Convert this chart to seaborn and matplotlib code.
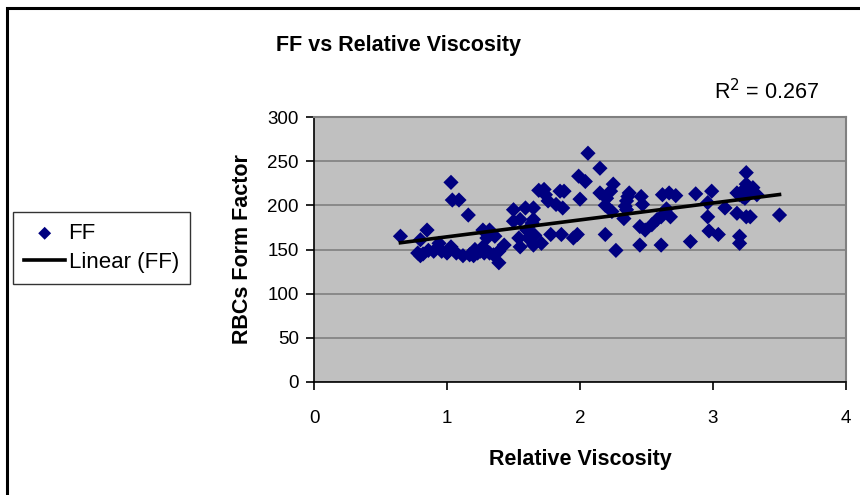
import matplotlib
matplotlib.use("Agg")
import matplotlib.pyplot as plt
import seaborn as sns
import pandas as pd
from matplotlib.patches import Rectangle

# values
rel_viscosity = [
    0.65, 1.03, 1.04, 1.09, 1.16, 0.85, 0.80, 0.78, 0.80, 0.86,
    0.94, 0.96, 1.03, 1.07, 1.01, 1.17, 1.21, 1.25, 1.27, 1.32,
    1.30, 1.36, 1.27, 1.32, 1.39, 1.39, 1.43, 1.50, 1.50, 1.59,
    1.65, 1.55, 1.60, 1.54, 1.61, 1.55, 1.65, 1.65, 1.69, 2.06,
    2.15, 1.99, 2.04, 1.73, 1.74, 1.85, 1.88, 1.76, 1.82, 1.87,
    2.00, 2.15, 2.25, 2.23, 2.20, 2.19, 2.24, 2.37, 2.35, 2.34,
    2.33, 2.46, 2.47, 2.45, 2.49, 2.54, 2.58, 2.61, 2.65, 2.68,
    2.62, 2.67, 2.72, 1.64, 1.66, 1.71, 1.78, 1.86, 1.95, 1.98,
    2.19, 2.27, 2.45, 2.61, 2.83, 3.25, 3.25, 3.18, 3.22, 3.27,
    3.33, 2.87, 2.99, 2.96, 3.09, 2.96, 3.18, 3.25, 3.28, 3.50,
    2.97, 3.04, 3.20, 3.20, 0.82, 0.90, 1.00, 1.12, 1.20, 1.23,
    1.35, 1.28, 3.22, 3.26, 3.30, 3.24, 3.20, 2.35, 2.36,
]
form_factor = [
    165, 226, 206, 206, 189, 172, 161, 146, 143, 149,
    157, 148, 153, 146, 148, 144, 150, 148, 172, 172,
    163, 165, 153, 146, 135, 148, 155, 195, 182, 197,
    197, 184, 172, 163, 163, 153, 155, 184, 217, 259,
    242, 233, 227, 218, 212, 216, 216, 205, 201, 197,
    207, 214, 224, 216, 208, 200, 193, 214, 205, 199,
    185, 210, 201, 176, 172, 178, 184, 187, 196, 187,
    212, 214, 211, 180, 166, 157, 167, 167, 163, 167,
    167, 149, 155, 155, 159, 237, 224, 214, 216, 216,
    212, 213, 216, 203, 197, 187, 191, 187, 187, 189,
    171, 167, 165, 157, 145, 148, 146, 143, 143, 146,
    144, 146, 210, 212, 220, 208, 212, 195, 210,
]
r2_text = "R$^2$ = 0.267"

df = pd.DataFrame({"Relative Viscosity": rel_viscosity, "FF": form_factor})

W, H = 860, 495
fig = plt.figure(figsize=(W / 100, H / 100), dpi=100)
plt.rcParams["font.family"] = ["Liberation Sans", "DejaVu Sans"]

# outer chart border (runs off the right/bottom edge like the screenshot)
fig.patches.append(Rectangle((7 / W, -0.1), 1.2, 1 - 8 / H + 0.1, transform=fig.transFigure,
                             fill=False, edgecolor="black", linewidth=2.2))

ax = fig.add_axes([314 / W, 1 - 382 / H, (846 - 314) / W, (382 - 117) / H])
ax.set_facecolor("#C0C0C0")

sns.scatterplot(data=df, x="Relative Viscosity", y="FF", marker="D", color="#000080",
                s=60, edgecolor="none", label="FF", ax=ax, zorder=3)
sns.regplot(data=df, x="Relative Viscosity", y="FF", scatter=False, ci=None,
            color="black", label="Linear (FF)", line_kws={"linewidth": 2.6, "zorder": 4}, ax=ax)

ax.set_xlim(0, 4)
ax.set_ylim(0, 300)
ax.set_xticks([0, 1, 2, 3, 4])
ax.set_yticks(range(0, 301, 50))
ax.yaxis.grid(True, color="#808080", linewidth=1.2)
ax.set_axisbelow(True)
for side in ["top", "right"]:
    ax.spines[side].set_color("#808080")
    ax.spines[side].set_linewidth(1.5)
for side in ["left", "bottom"]:
    ax.spines[side].set_color("black")
    ax.spines[side].set_linewidth(1.2)
ax.tick_params(direction="out", length=6, width=1.2, labelsize=13.5)
ax.tick_params(axis="x", pad=14)
ax.tick_params(axis="y", pad=5)

ax.set_xlabel("Relative Viscosity", fontsize=15.5, fontweight="bold", labelpad=16)
ax.set_ylabel("RBCs Form Factor", fontsize=15.5, fontweight="bold", labelpad=10)

fig.text(399 / W, 1 - 45 / H, "FF vs Relative Viscosity", ha="center", va="center",
         fontsize=15.5, fontweight="bold")
fig.text(767 / W, 1 - 92 / H, r2_text, ha="center", va="center", fontsize=15.5)

leg = ax.legend(loc="upper left", bbox_to_anchor=(13 / W, 1 - 212 / H),
                bbox_transform=fig.transFigure, frameon=True, fancybox=False,
                edgecolor="black", fontsize=16, borderpad=0.5, handlelength=1.85,
                handletextpad=0.15, borderaxespad=0, labelspacing=0.35, markerscale=0.85)
leg.get_frame().set_linewidth(1.0)

fig.savefig("out.png", dpi=100)
